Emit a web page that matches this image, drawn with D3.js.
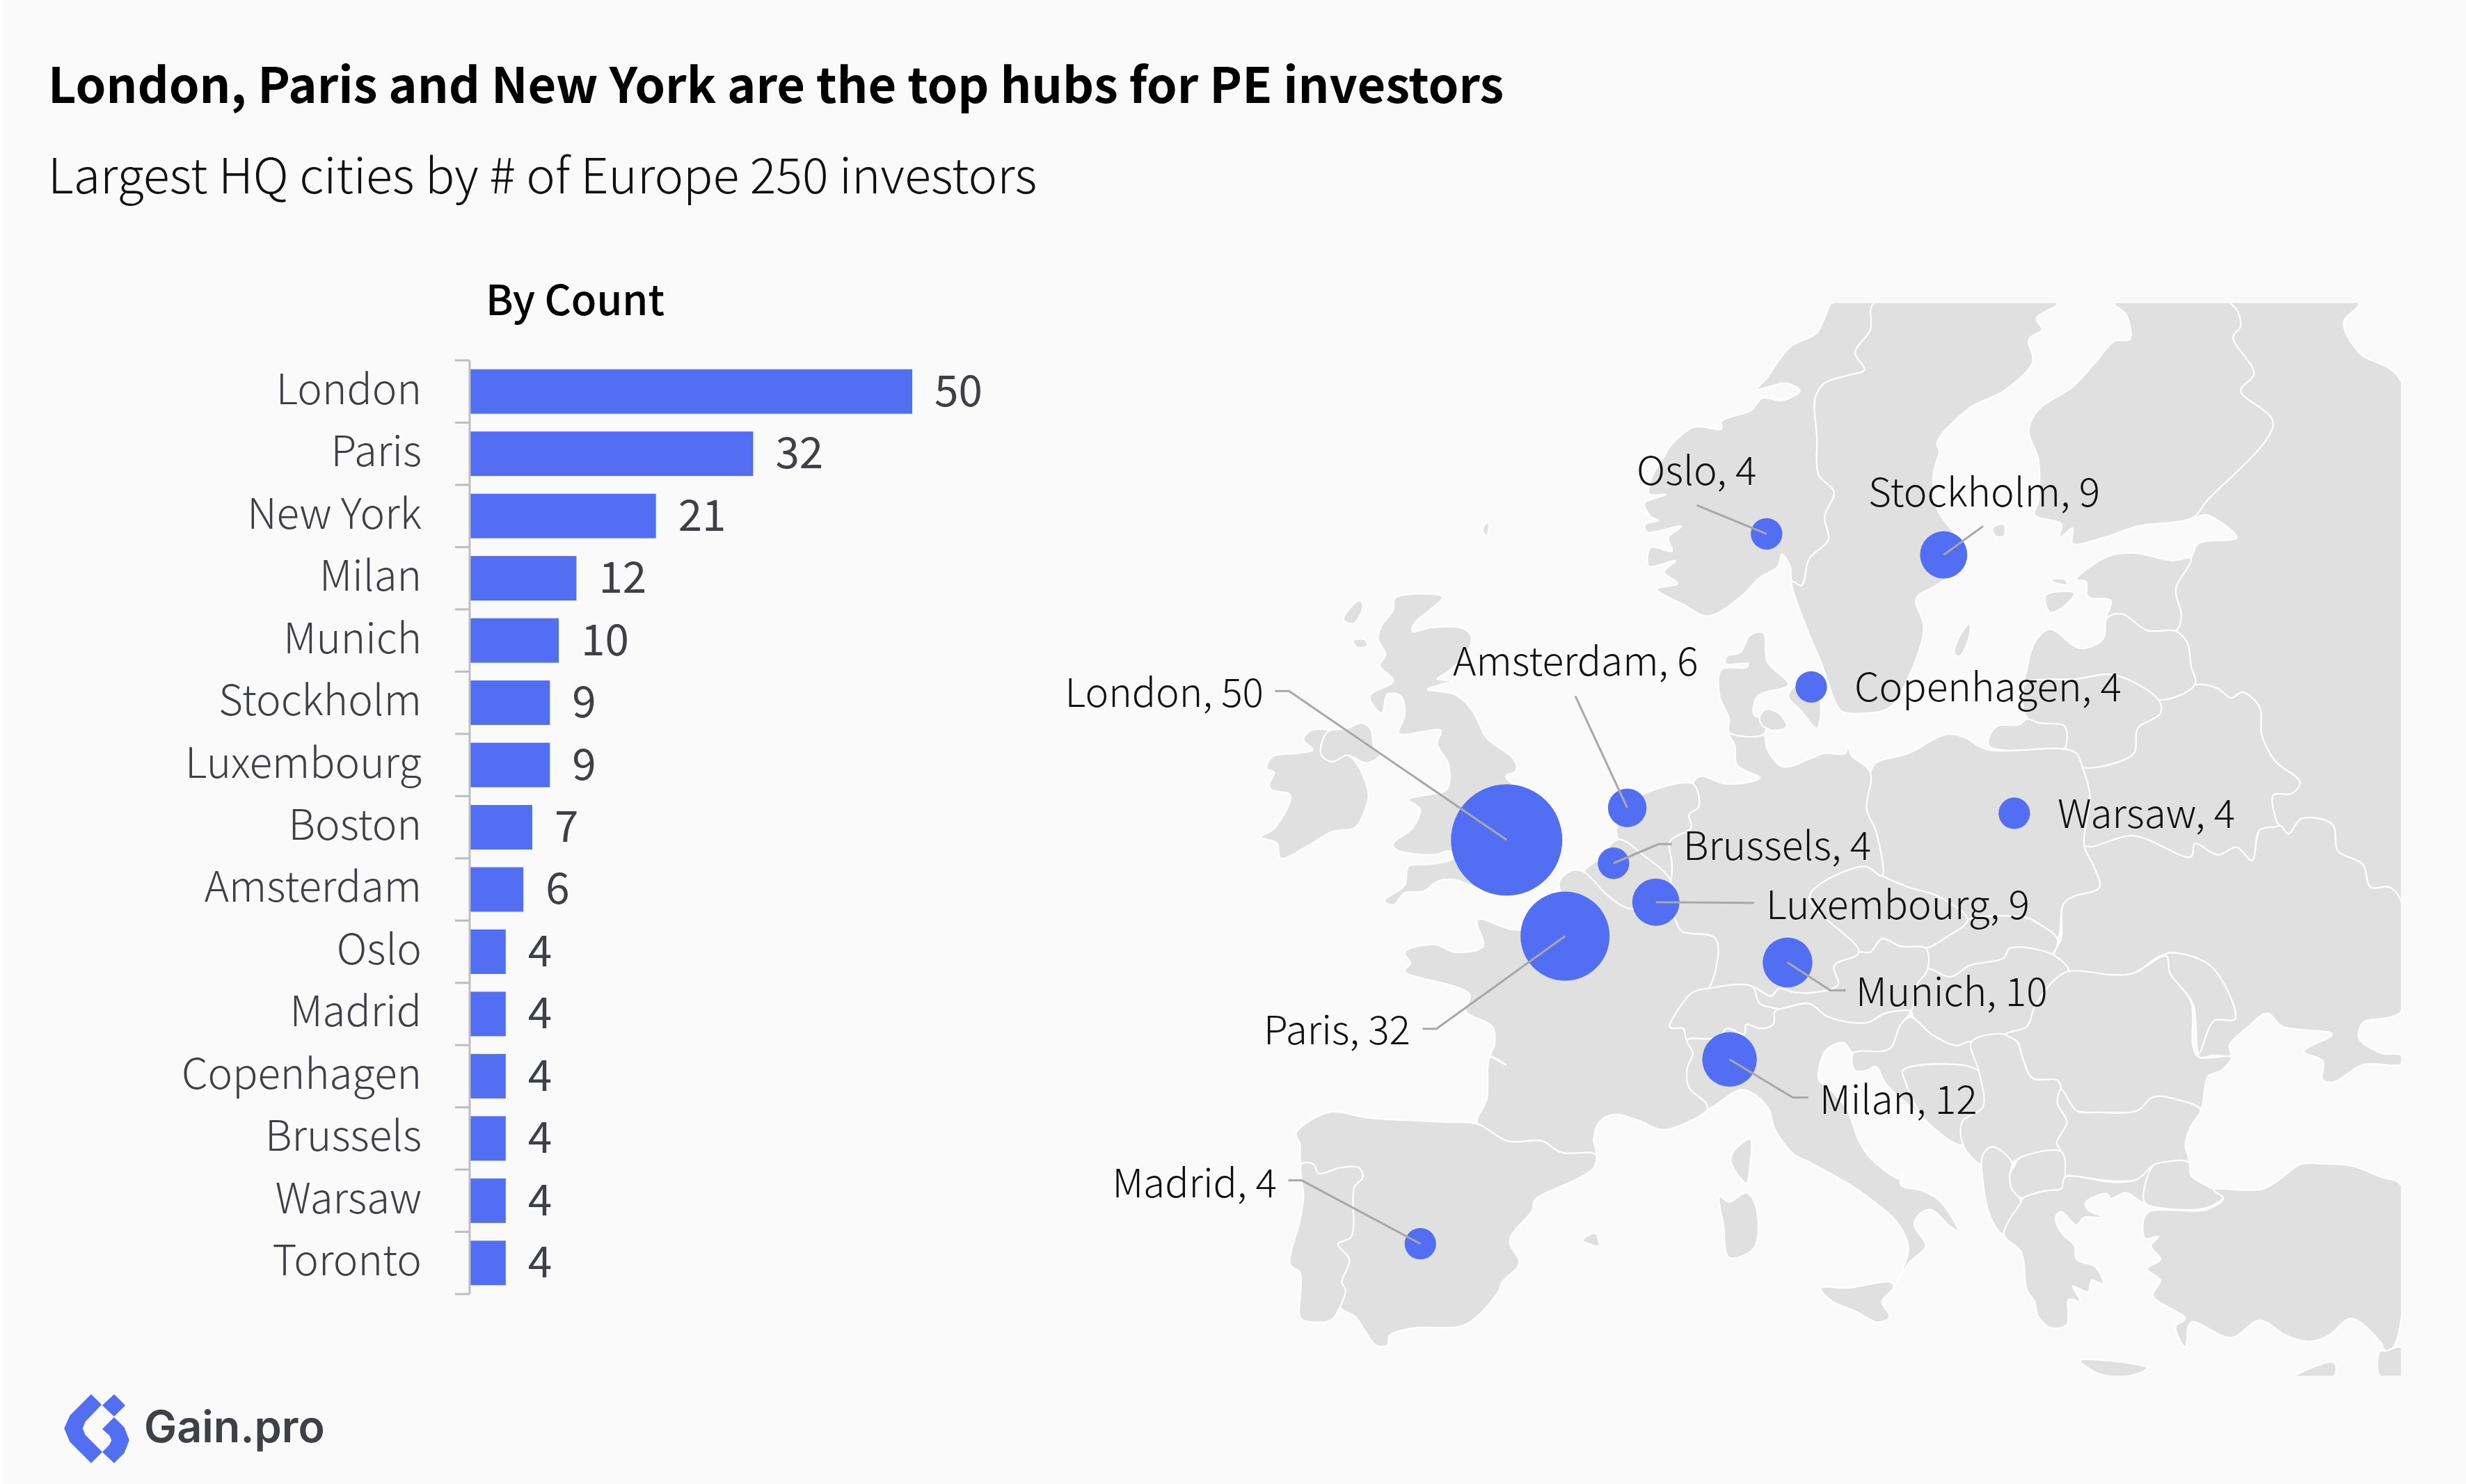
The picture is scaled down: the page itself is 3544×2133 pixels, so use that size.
<!DOCTYPE html>
<html><head><meta charset="utf-8">
<script src="https://cdn.jsdelivr.net/npm/d3@7/dist/d3.min.js"></script>
<style>
html,body{margin:0;padding:0;background:#fafafa}
svg{display:block}
text{font-family:"Noto Sans CJK SC","Noto Sans",sans-serif}
</style></head><body>
<svg id="c" width="3544" height="2133"></svg>
<script>
// ---------- bar chart data ----------
const categories=["London","Paris","New York","Milan","Munich","Stockholm","Luxembourg","Boston","Amsterdam","Oslo","Madrid","Copenhagen","Brussels","Warsaw","Toronto"];
const counts=[50,32,21,12,10,9,9,7,6,4,4,4,4,4,4];
// ---------- bubble map data (map-grid units) ----------
const cities=["London","Amsterdam","Brussels","Luxembourg","Paris","Munich","Milan","Madrid","Oslo","Stockholm","Copenhagen","Warsaw"];
const cityCounts=[50,6,4,9,32,10,12,4,4,9,4,4];
const cityGrid=[[757,1417],[1073,1333],[1037,1478],[1148,1580],[910,1669],[1493,1738],[1341,1992],[531,2475],[1438,615],[1902,670],[1555,1016],[2087,1347]];
const leaderBends=[[[187,1027],[150,1027]],[[937,1040]],[[1155,1428],[1190,1428]],[[1405,1582]],[[573,1912],[537,1912]],[[1605,1811],[1645,1811]],[[1507,2092],[1547,2092]],[[220,2309],[185,2309]],[[1255,540]],[[2005,595]],[],[]];
const labelPlacement=[[1816,1016,"end"],[2088,971,"start"],[2419,1236,"start"],[2538,1321,"start"],[2027,1501,"end"],[2667,1446,"start"],[2615,1601,"start"],[1835,1721,"end"],[2352,697,"start"],[2685,728,"start"],[2665,1008,"start"],[2957,1190,"start"]];
// ---------- land outlines (map-grid units) ----------
const ireland=[[245,1130],[290,1132],[272,1165],[272,1195],[300,1212],[340,1195],[372,1230],[395,1300],[385,1340],[360,1385],[300,1395],[240,1430],[165,1465],[155,1425],[115,1410],[150,1385],[190,1300],[140,1285],[135,1270],[148,1240],[128,1230],[145,1198],[210,1190],[250,1180],[225,1155]];
const northernIreland=[[290,1132],[340,1125],[375,1110],[400,1125],[410,1175],[425,1195],[390,1215],[340,1195],[300,1212],[272,1195],[272,1165]];
const britain=[[465,783],[590,780],[555,815],[515,850],[510,870],[565,860],[640,862],[665,885],[650,930],[605,975],[575,995],[612,1000],[550,1022],[620,1035],[665,1075],[705,1150],[775,1205],[782,1235],[755,1250],[800,1290],[860,1340],[880,1420],[870,1480],[820,1540],[780,1561],[700,1551],[620,1521],[575,1526],[540,1551],[490,1556],[460,1588],[437,1576],[490,1536],[500,1486],[550,1481],[615,1466],[610,1446],[565,1456],[465,1441],[460,1426],[510,1386],[530,1336],[500,1311],[540,1300],[600,1285],[605,1220],[575,1165],[585,1130],[475,1138],[490,1090],[480,1040],[445,1035],[430,1085],[398,1040],[460,1000],[425,960],[440,930],[420,890],[430,855],[460,815]];
const hebrides=[[375,790],[355,800],[330,840],[355,850],[380,810]];
const skye=[[355,895],[385,892],[392,908],[365,912]];
const shetland=[[700,590],[710,588],[705,620],[695,610]];
const norway=[[1720,10],[1610,10],[1590,50],[1568,90],[1500,125],[1440,205],[1415,235],[1490,220],[1525,240],[1480,265],[1425,260],[1400,290],[1320,320],[1320,340],[1250,335],[1190,380],[1165,420],[1140,460],[1130,510],[1175,512],[1118,535],[1135,570],[1155,580],[1120,590],[1125,610],[1215,595],[1180,625],[1190,660],[1135,650],[1130,700],[1200,685],[1170,715],[1205,745],[1150,760],[1220,800],[1285,830],[1370,780],[1420,730],[1468,700],[1478,668],[1500,700],[1505,740],[1530,750],[1550,680],[1600,630],[1590,570],[1615,505],[1575,460],[1570,360],[1565,260],[1590,220],[1650,200],[1695,185],[1670,140],[1710,80]];
const sweden=[[1720,10],[2200,12],[2145,50],[2160,80],[2125,105],[2135,165],[2060,240],[1970,285],[1885,375],[1890,400],[1875,460],[1885,550],[1950,640],[1965,680],[1890,745],[1830,785],[1850,860],[1810,990],[1760,1070],[1695,1085],[1635,1080],[1620,1060],[1580,950],[1550,880],[1505,740],[1530,750],[1550,680],[1600,630],[1590,570],[1615,505],[1575,460],[1570,360],[1565,260],[1590,220],[1650,200],[1695,185],[1670,140],[1710,80]];
const gotland=[[1970,850],[1945,880],[1930,930],[1945,935],[1970,880]];
const aland=[[2030,600],[2060,590],[2060,620],[2040,622]];
const finland=[[2350,12],[2380,40],[2390,105],[2350,110],[2300,165],[2240,230],[2150,290],[2125,345],[2150,420],[2150,530],[2140,565],[2210,590],[2205,625],[2240,600],[2240,640],[2320,625],[2410,595],[2555,572],[2590,530],[2765,325],[2680,240],[2715,195],[2660,100],[2680,70],[2655,12]];
const estonia=[[2250,735],[2330,675],[2400,665],[2500,685],[2550,680],[2510,760],[2525,830],[2510,870],[2435,868],[2370,825],[2330,835],[2340,790],[2280,780],[2275,740]];
const saaremaa=[[2170,775],[2245,770],[2210,810],[2180,820]];
const hiiumaa=[[2180,735],[2220,735],[2225,748],[2200,745]];
const latvia=[[2330,835],[2370,825],[2435,868],[2510,870],[2540,900],[2550,960],[2560,1010],[2465,1050],[2350,985],[2250,995],[2115,1010],[2120,970],[2140,900],[2180,865],[2260,915],[2320,890]];
const lithuania=[[2115,1010],[2250,995],[2350,985],[2465,1050],[2470,1085],[2410,1125],[2400,1190],[2310,1225],[2265,1225],[2250,1190],[2220,1175],[2220,1120],[2150,1110],[2120,1095]];
const kaliningrad=[[2040,1120],[2100,1115],[2120,1100],[2150,1110],[2220,1120],[2220,1175],[2210,1178],[2020,1170]];
const belarus=[[2560,1010],[2620,1020],[2655,1045],[2685,1030],[2730,1070],[2735,1140],[2770,1210],[2835,1265],[2815,1295],[2765,1300],[2775,1370],[2780,1380],[2730,1391],[2710,1471],[2670,1436],[2620,1456],[2560,1426],[2550,1461],[2400,1406],[2270,1431],[2285,1300],[2265,1225],[2310,1225],[2400,1190],[2410,1125],[2470,1085],[2465,1050]];
const ukraine=[[2270,1431],[2400,1406],[2550,1461],[2560,1426],[2620,1456],[2670,1436],[2710,1471],[2730,1391],[2780,1376],[2805,1401],[2840,1361],[2920,1376],[2935,1446],[3000,1481],[3020,1541],[3070,1541],[3100,1576],[3100,1866],[3000,1896],[2990,1936],[3050,1976],[3100,1981],[3100,2004],[3000,2006],[2925,2051],[2895,2046],[2895,1996],[2845,1971],[2920,1926],[2790,1906],[2750,1871],[2700,1906],[2650,1956],[2655,1981],[2610,1981],[2570,1986],[2610,1891],[2665,1886],[2600,1746],[2485,1716],[2400,1766],[2350,1771],[2230,1761],[2190,1721],[2210,1676],[2215,1586],[2240,1566],[2310,1541],[2295,1486]];
const moldova=[[2485,1716],[2600,1746],[2665,1886],[2610,1891],[2570,1976],[2555,1846],[2495,1766]];
const russia=[[2655,12],[2990,12],[2950,60],[2990,140],[3100,215],[3100,1576],[3070,1541],[3020,1541],[3000,1481],[2935,1446],[2920,1376],[2840,1361],[2805,1401],[2780,1380],[2775,1370],[2765,1300],[2815,1295],[2835,1265],[2770,1210],[2735,1140],[2730,1070],[2685,1030],[2655,1045],[2620,1020],[2560,1010],[2550,960],[2540,900],[2510,870],[2525,830],[2510,760],[2550,680],[2570,640],[2670,625],[2590,565],[2555,572],[2590,530],[2765,325],[2680,240],[2715,195],[2660,100],[2680,70]];
const poland=[[1710,1240],[1725,1215],[1810,1190],[1910,1140],[1960,1150],[2015,1180],[2210,1178],[2250,1190],[2265,1225],[2285,1300],[2270,1431],[2295,1486],[2310,1541],[2240,1566],[2215,1586],[2200,1676],[2150,1636],[2120,1621],[1965,1626],[1890,1566],[1810,1541],[1740,1511],[1725,1396],[1700,1336]];
const slovakia=[[2200,1676],[2150,1636],[2120,1621],[1965,1626],[1910,1671],[1855,1701],[1860,1756],[1920,1776],[1970,1746],[2060,1726],[2075,1701],[2185,1716]];
const czechia=[[1550,1566],[1695,1486],[1740,1511],[1810,1541],[1890,1566],[1965,1626],[1910,1671],[1855,1701],[1790,1696],[1740,1676],[1710,1711],[1680,1711]];
const austria=[[1400,1801],[1450,1826],[1470,1806],[1510,1816],[1568,1816],[1625,1796],[1615,1746],[1680,1711],[1710,1711],[1740,1676],[1790,1696],[1855,1701],[1860,1756],[1830,1800],[1815,1866],[1750,1871],[1700,1896],[1600,1881],[1550,1846],[1490,1856],[1470,1861],[1420,1846]];
const hungary=[[1860,1756],[1920,1776],[1970,1746],[2060,1726],[2075,1701],[2185,1716],[2230,1761],[2190,1786],[2140,1856],[2120,1906],[2065,1926],[1980,1946],[1935,1956],[1870,1926],[1820,1876],[1830,1800]];
const croatia=[[1815,1881],[1870,1926],[1935,1956],[1975,1946],[1995,2026],[1890,2004],[1795,2021],[1800,2046],[1850,2146],[1950,2221],[1840,2136],[1750,2056],[1725,2011],[1700,2021],[1670,2021],[1665,1976],[1745,1970],[1765,1960],[1790,1900]];
const bosnia=[[1795,2021],[1890,2004],[1995,2024],[2005,2116],[1952,2156],[1950,2216],[1850,2146],[1800,2046]];
const serbia=[[1975,1946],[2065,1926],[2095,1946],[2110,1991],[2135,2041],[2200,2046],[2210,2071],[2200,2106],[2225,2156],[2198,2211],[2210,2234],[2100,2251],[2080,2261],[2030,2221],[2005,2241],[2000,2266],[1955,2221],[1950,2156],[2005,2116],[1995,2026]];
const romania=[[2230,1761],[2350,1771],[2400,1766],[2485,1721],[2495,1766],[2550,1841],[2555,1956],[2570,1986],[2655,1986],[2630,2021],[2595,2036],[2585,2076],[2575,2121],[2510,2096],[2450,2091],[2410,2126],[2310,2131],[2250,2126],[2210,2086],[2210,2066],[2200,2046],[2135,2041],[2110,1991],[2095,1946],[2065,1926],[2120,1906],[2140,1856],[2190,1786]];
const bulgaria=[[2210,2071],[2250,2126],[2310,2131],[2410,2126],[2450,2091],[2510,2096],[2575,2124],[2550,2166],[2535,2216],[2543,2261],[2480,2261],[2450,2271],[2410,2306],[2350,2311],[2230,2296],[2215,2296],[2210,2234],[2198,2211],[2225,2156],[2200,2106]];
const macedonia=[[2100,2251],[2210,2234],[2220,2296],[2210,2331],[2170,2336],[2110,2356],[2080,2331],[2075,2296],[2090,2266]];
const albania=[[2030,2221],[2080,2261],[2075,2296],[2080,2331],[2105,2366],[2060,2451],[2025,2406],[2008,2336],[2005,2241]];
const greece=[[2105,2366],[2110,2356],[2170,2336],[2210,2331],[2220,2301],[2350,2314],[2410,2306],[2450,2271],[2428,2366],[2380,2341],[2340,2356],[2330,2344],[2275,2366],[2280,2386],[2320,2406],[2270,2406],[2250,2426],[2210,2391],[2195,2406],[2210,2446],[2245,2481],[2250,2516],[2300,2536],[2320,2581],[2290,2571],[2280,2601],[2240,2586],[2260,2626],[2230,2621],[2225,2686],[2185,2696],[2150,2666],[2140,2626],[2120,2596],[2105,2496],[2060,2451]];
const crete=[[2260,2781],[2330,2781],[2435,2801],[2390,2821],[2310,2816]];
const thrace=[[2450,2271],[2480,2261],[2543,2261],[2550,2296],[2605,2331],[2635,2351],[2590,2381],[2470,2381],[2428,2366]];
const anatolia=[[2610,2334],[2740,2331],[2840,2266],[2900,2266],[2970,2271],[3050,2301],[3100,2321],[3100,2676],[3080,2746],[3060,2756],[3045,2731],[2970,2671],[2910,2716],[2860,2731],[2800,2716],[2730,2676],[2655,2721],[2550,2681],[2535,2746],[2510,2691],[2535,2671],[2450,2611],[2470,2571],[2435,2541],[2470,2516],[2445,2481],[2465,2456],[2430,2461],[2425,2416],[2440,2391],[2590,2386],[2635,2356]];
const levant=[[3045,2756],[3060,2756],[3100,2746],[3100,2821],[3045,2821]];
const cyprus=[[2825,2821],[2925,2786],[2925,2821]];
const switzerland=[[1245,1816],[1285,1806],[1400,1801],[1420,1846],[1470,1861],[1460,1866],[1455,1901],[1420,1911],[1385,1901],[1380,1926],[1335,1911],[1310,1936],[1230,1941],[1220,1911],[1185,1908],[1210,1856]];
const italy=[[1230,1941],[1310,1936],[1335,1911],[1380,1926],[1385,1901],[1420,1911],[1455,1901],[1460,1866],[1470,1861],[1490,1856],[1550,1846],[1600,1881],[1700,1896],[1750,1871],[1815,1866],[1790,1900],[1765,1960],[1745,1970],[1665,1976],[1640,1948],[1595,1966],[1580,1996],[1575,2046],[1600,2066],[1650,2126],[1680,2206],[1710,2251],[1790,2306],[1795,2286],[1790,2321],[1845,2336],[1890,2361],[1935,2426],[1940,2441],[1920,2431],[1870,2386],[1840,2396],[1825,2426],[1855,2481],[1810,2526],[1780,2576],[1810,2491],[1785,2426],[1680,2336],[1550,2261],[1510,2241],[1460,2176],[1440,2116],[1375,2071],[1285,2121],[1280,2106],[1235,2066],[1230,2016],[1245,1976]];
const sicily=[[1580,2591],[1650,2591],[1765,2576],[1770,2591],[1740,2626],[1760,2666],[1730,2681],[1670,2651],[1610,2626]];
const sardinia=[[1315,2351],[1340,2366],[1385,2341],[1410,2376],[1405,2486],[1340,2511],[1325,2426]];
const corsica=[[1395,2201],[1350,2236],[1345,2261],[1385,2316],[1395,2266]];
const mallorca=[[955,2466],[990,2448],[998,2481],[975,2476]];
const france=[[930,1496],[895,1526],[900,1576],[850,1646],[770,1651],[680,1626],[695,1696],[620,1711],[570,1691],[490,1711],[505,1741],[490,1761],[660,1821],[650,1866],[720,1906],[725,1956],[715,1981],[755,2006],[715,1986],[705,2096],[680,2161],[760,2206],[850,2206],[900,2236],[990,2241],[985,2201],[1000,2156],[1040,2136],[1100,2151],[1170,2176],[1285,2121],[1280,2106],[1235,2066],[1230,2016],[1245,1976],[1230,1941],[1220,1911],[1185,1908],[1210,1856],[1245,1816],[1285,1806],[1305,1676],[1215,1656],[1195,1620],[1150,1595],[1075,1596],[1020,1561],[960,1501]];
const spain=[[205,2186],[290,2131],[400,2146],[600,2156],[680,2161],[760,2206],[850,2206],[900,2236],[990,2241],[985,2276],[940,2306],[830,2361],[825,2386],[765,2466],[790,2526],[745,2576],[735,2601],[650,2686],[510,2696],[450,2716],[445,2741],[415,2741],[360,2666],[320,2641],[335,2596],[325,2576],[345,2516],[315,2476],[350,2456],[358,2326],[380,2301],[370,2276],[320,2276],[265,2291],[250,2266],[220,2266],[215,2211]];
const portugal=[[220,2266],[250,2266],[265,2291],[320,2276],[370,2276],[380,2301],[358,2326],[350,2456],[315,2476],[345,2516],[325,2576],[335,2596],[320,2641],[295,2676],[225,2676],[215,2666],[215,2550],[190,2530],[215,2416],[225,2350]];
const netherlands=[[1050,1416],[1045,1391],[1060,1336],[1100,1306],[1130,1290],[1245,1270],[1260,1330],[1235,1350],[1240,1385],[1185,1420],[1190,1480],[1185,1521],[1120,1461]];
const belgium=[[960,1501],[1000,1466],[1050,1416],[1120,1461],[1185,1521],[1195,1620],[1150,1595],[1075,1596],[1020,1561]];
const germany=[[1245,1270],[1265,1250],[1330,1270],[1420,1255],[1360,1220],[1355,1170],[1340,1135],[1430,1140],[1440,1180],[1480,1225],[1550,1205],[1590,1190],[1645,1190],[1650,1165],[1660,1195],[1710,1240],[1700,1336],[1725,1396],[1740,1511],[1695,1486],[1550,1566],[1680,1711],[1615,1746],[1625,1796],[1568,1816],[1510,1816],[1470,1806],[1450,1826],[1400,1801],[1285,1806],[1305,1676],[1215,1656],[1195,1620],[1185,1521],[1190,1480],[1185,1420],[1240,1385],[1235,1350],[1260,1330]];
const jutland=[[1340,1135],[1430,1140],[1435,1100],[1405,1090],[1415,1040],[1495,1010],[1440,950],[1430,875],[1395,880],[1370,925],[1335,935],[1330,955],[1390,955],[1385,965],[1320,970],[1315,1040],[1340,1100]];
const funen=[[1420,1095],[1435,1075],[1470,1085],[1490,1120],[1455,1130],[1425,1115]];
const zealand=[[1495,1040],[1520,1010],[1575,1040],[1570,1125],[1530,1080]];
const landOutlines=[russia,ukraine,moldova,belarus,finland,estonia,latvia,lithuania,kaliningrad,poland,slovakia,czechia,hungary,austria,germany,netherlands,belgium,france,switzerland,italy,croatia,bosnia,serbia,romania,bulgaria,macedonia,albania,greece,thrace,anatolia,levant,spain,portugal,norway,sweden,jutland,funen,zealand,ireland,northernIreland,britain,hebrides,skye,shetland,gotland,aland,saaremaa,hiiumaa,crete,cyprus,sicily,sardinia,corsica,mallorca];
// ---------- logo ----------
const logoParts=[[[131,2005],[145,2019],[122,2043],[118,2053],[122,2063],[146,2087],[131,2102],[101,2072],[93,2053],[101,2035]],[[164,2005],[179,2020],[164,2035],[148,2020]],[[164,2038],[178,2052],[185,2070],[178,2088],[164,2102],[148,2087],[158,2077],[161,2070],[158,2063],[148,2054]]];

const BLUE="#526ef2",LAND="#e0e0e0",BG="#fafafa";
const svg=d3.select("#c");
svg.append("rect").attr("x",4).attr("width",3540).attr("height",2133).attr("fill",BG);
svg.append("rect").attr("width",4).attr("height",2133).attr("fill","#fff");

// titles
svg.append("text").attr("x",69).attr("y",148).attr("font-size",70.2).attr("font-weight",700).attr("fill","#000").text("London, Paris and New York are the top hubs for PE investors");
svg.append("text").attr("x",69).attr("y",278).attr("font-size",70.2).attr("font-weight",300).attr("fill","#111").text("Largest HQ cities by # of Europe 250 investors");
svg.append("text").attr("x",698).attr("y",453).attr("font-size",59.5).attr("font-weight",500).attr("fill","#000").text("By Count");

// bars
const y=d3.scaleBand().domain(categories).range([518,1860]).paddingInner(.285).paddingOuter(.1425);
const x=d3.scaleLinear().domain([0,50]).range([676,1311]);
svg.append("g").selectAll("rect").data(categories).join("rect")
  .attr("x",x(0)).attr("y",d=>y(d)).attr("height",y.bandwidth())
  .attr("width",(d,i)=>x(counts[i])-x(0)).attr("fill",BLUE);
const axis=svg.append("g").attr("stroke","#bdbdbd").attr("stroke-width",3);
axis.append("line").attr("x1",x(0)-1).attr("x2",x(0)-1).attr("y1",y.range()[0]).attr("y2",y.range()[1]);
axis.selectAll("line.t").data(d3.range(categories.length+1)).join("line").attr("class","t")
  .attr("x1",x(0)-22).attr("x2",x(0)-1)
  .attr("y1",i=>y.range()[0]+i*y.step()).attr("y2",i=>y.range()[0]+i*y.step());
svg.append("g").selectAll("text").data(categories).join("text")
  .attr("x",606).attr("y",d=>y(d)+y.bandwidth()/2+18).attr("text-anchor","end")
  .attr("font-size",60).attr("font-weight",300).attr("fill","#3f3f46").text(d=>d);
svg.append("g").selectAll("text").data(categories).join("text")
  .attr("x",(d,i)=>x(counts[i])+32).attr("y",d=>y(d)+y.bandwidth()/2+21)
  .attr("font-size",62).attr("font-weight",400).attr("fill","#3f3f46").text((d,i)=>counts[i]);

// map
const gx=d3.scaleLinear().domain([0,3100]).range([1750,3450.5]);
const gy=d3.scaleLinear().domain([0,2850]).range([430,430+2850/1.823]);
const r=d3.scaleSqrt().domain([0,50]).range([0,80]);
const defs=svg.append("defs");
defs.append("clipPath").attr("id","mapclip").append("rect")
  .attr("x",gx(0)).attr("y",gy(10)).attr("width",gx(3100)-gx(0)).attr("height",gy(2821)-gy(10));
const outline=d3.line().x(d=>gx(d[0])).y(d=>gy(d[1])).curve(d3.curveCatmullRomClosed.alpha(0.5));
svg.append("g").attr("clip-path","url(#mapclip)").selectAll("path").data(landOutlines).join("path")
  .attr("d",outline).attr("fill",LAND).attr("stroke","#fff").attr("stroke-width",2.2).attr("stroke-linejoin","round");
svg.append("g").selectAll("circle").data(cities).join("circle")
  .attr("cx",(d,i)=>gx(cityGrid[i][0])).attr("cy",(d,i)=>gy(cityGrid[i][1]))
  .attr("r",(d,i)=>r(cityCounts[i])).attr("fill",BLUE);
const leader=d3.line().x(d=>gx(d[0])).y(d=>gy(d[1]));
svg.append("g").selectAll("path").data(cities).join("path")
  .attr("d",(d,i)=>leaderBends[i].length?leader([cityGrid[i],...leaderBends[i]]):null)
  .attr("fill","none").attr("stroke","#a8a8a8").attr("stroke-width",3);
svg.append("g").selectAll("text").data(cities).join("text")
  .attr("x",(d,i)=>labelPlacement[i][0]).attr("y",(d,i)=>labelPlacement[i][1])
  .attr("text-anchor",(d,i)=>labelPlacement[i][2])
  .attr("font-size",56.8).attr("font-weight",300).attr("fill","#111")
  .text((d,i)=>`${d}, ${cityCounts[i]}`);

// logo
const logoLine=d3.line().curve(d3.curveLinearClosed);
svg.append("g").selectAll("path").data(logoParts).join("path").attr("d",logoLine).attr("fill",BLUE).attr("stroke",BLUE).attr("stroke-width",1.5).attr("stroke-linejoin","round");
svg.append("text").attr("x",207).attr("y",2073).attr("font-size",63).attr("font-weight",600).attr("fill","#3f3f46").style("font-family","Inter").text("Gain.pro");
</script></body></html>
